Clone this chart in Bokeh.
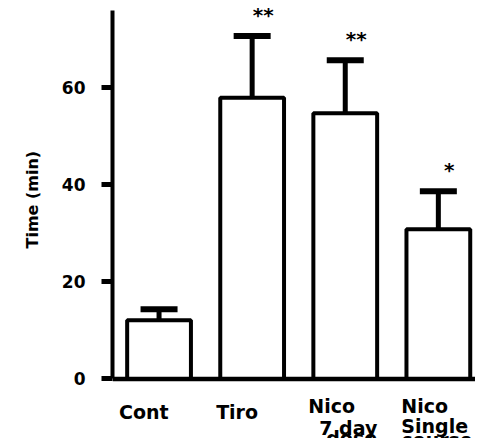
from bokeh.plotting import figure
from bokeh.models import ColumnDataSource, FixedTicker, Span, Whisker, TeeHead, Range1d, Title
from bokeh.transform import dodge
from bokeh.core.properties import value
from bokeh.embed import file_html
from bokeh.resources import INLINE

# ---- data ----
groups = ["Cont", "Tiro", "Nico7", "NicoSingle"]
means = [12.1, 58.0, 54.8, 30.9]
sems = [2.3, 12.7, 10.9, 7.8]
stars = ["", "**", "**", "*"]
y_ticks = [0, 20, 40, 60]
y_label = "Time (min)"

# category label lines (group index, text)
label_group_idx = [0, 1, 2, 2, 3, 3]
label_texts = ["Cont", "Tiro", "Nico", "7 day", "Nico", "Single"]
last_group_idx = [2, 3]
last_texts = ["dose", "course"]

# ---- layout (positions only) ----
label_y = [-6.9, -6.9, -5.5, -10.2, -5.5, -9.6]
label_dx = [-40, -36, -37, -26, -37, -37]
last_y = [-9.9, -10.25]
last_dx = [-19, -37]
CAT_PX = 93.1

FONT = "DejaVu Sans"

xs = [i + 0.5 for i in range(len(groups))]
upper = [m + s for m, s in zip(means, sems)]
src = ColumnDataSource(dict(x=xs, g=groups, m=means, up=upper, stars=stars,
                            sy=[u + 4.4 for u in upper]))
lab = ColumnDataSource(dict(x=[xs[i] for i in label_group_idx], t=label_texts,
                            y=label_y, dx=label_dx))
lab2 = ColumnDataSource(dict(x=[xs[i] for i in last_group_idx], t=last_texts,
                             y=last_y, dx=last_dx))

p = figure(width=475, height=438,
           x_range=Range1d(0, 363 / CAT_PX),
           y_range=Range1d(-12.27, 78.04), output_backend="svg",
           toolbar_location=None, x_axis_location=None,
           min_border_left=112, min_border_right=0, min_border_top=0, min_border_bottom=0)
p.outline_line_color = None
p.grid.visible = False
p.background_fill_color = "white"
p.border_fill_color = "white"

# bars
p.vbar(x="x", top="m", bottom=0, width=0.685, source=src,
       fill_color="white", line_color="black", line_width=4)

# error bars (upper only)
w = Whisker(base="x", lower="m", upper="up", source=src, dimension="height",
            line_color="black", line_width=5,
            upper_head=TeeHead(size=37, line_width=6, line_color="black"),
            lower_head=None, level="overlay")
p.add_layout(w)

# baseline
p.add_layout(Span(location=0, dimension="width", line_color="black", line_width=4.5))

# significance stars
p.text(x=dodge("x", 11 / CAT_PX), y="sy", text="stars", source=src,
       text_align="center", text_baseline="alphabetic",
       text_font=value(FONT), text_font_style="bold", text_font_size="20px",
       text_color="black")

# category labels
p.text(x="x", y="y", text="t", x_offset="dx", source=lab,
       text_align="left", text_baseline="alphabetic",
       text_font=value(FONT), text_font_style="bold", text_font_size="19px",
       text_color="black")
p.text(x="x", y="y", text="t", x_offset="dx", source=lab2,
       text_align="left", text_baseline="top",
       text_font=value(FONT), text_font_style="bold", text_font_size="19px",
       text_color="black")

# y axis
ax = p.yaxis[0]
ax.ticker = FixedTicker(ticks=y_ticks)
ax.bounds = (0, 76)
ax.axis_line_width = 4
ax.axis_line_color = "black"
ax.major_tick_line_width = 5
ax.major_tick_out = 11
ax.major_tick_in = 0
ax.minor_tick_line_color = None
ax.major_label_standoff = 16
ax.major_label_text_font = FONT
ax.major_label_text_font_style = "bold"
ax.major_label_text_font_size = "17px"
ax.major_label_text_color = "black"

# y axis title, placed as a side title so it can sit beside the axis span
ttl = Title(text=y_label, align="left", offset=190, standoff=30, vertical_align="top",
            text_font=FONT, text_font_style="bold", text_font_size="16px",
            text_color="black")
p.add_layout(ttl, "left")

open("out.html", "w").write(file_html(p, INLINE))
